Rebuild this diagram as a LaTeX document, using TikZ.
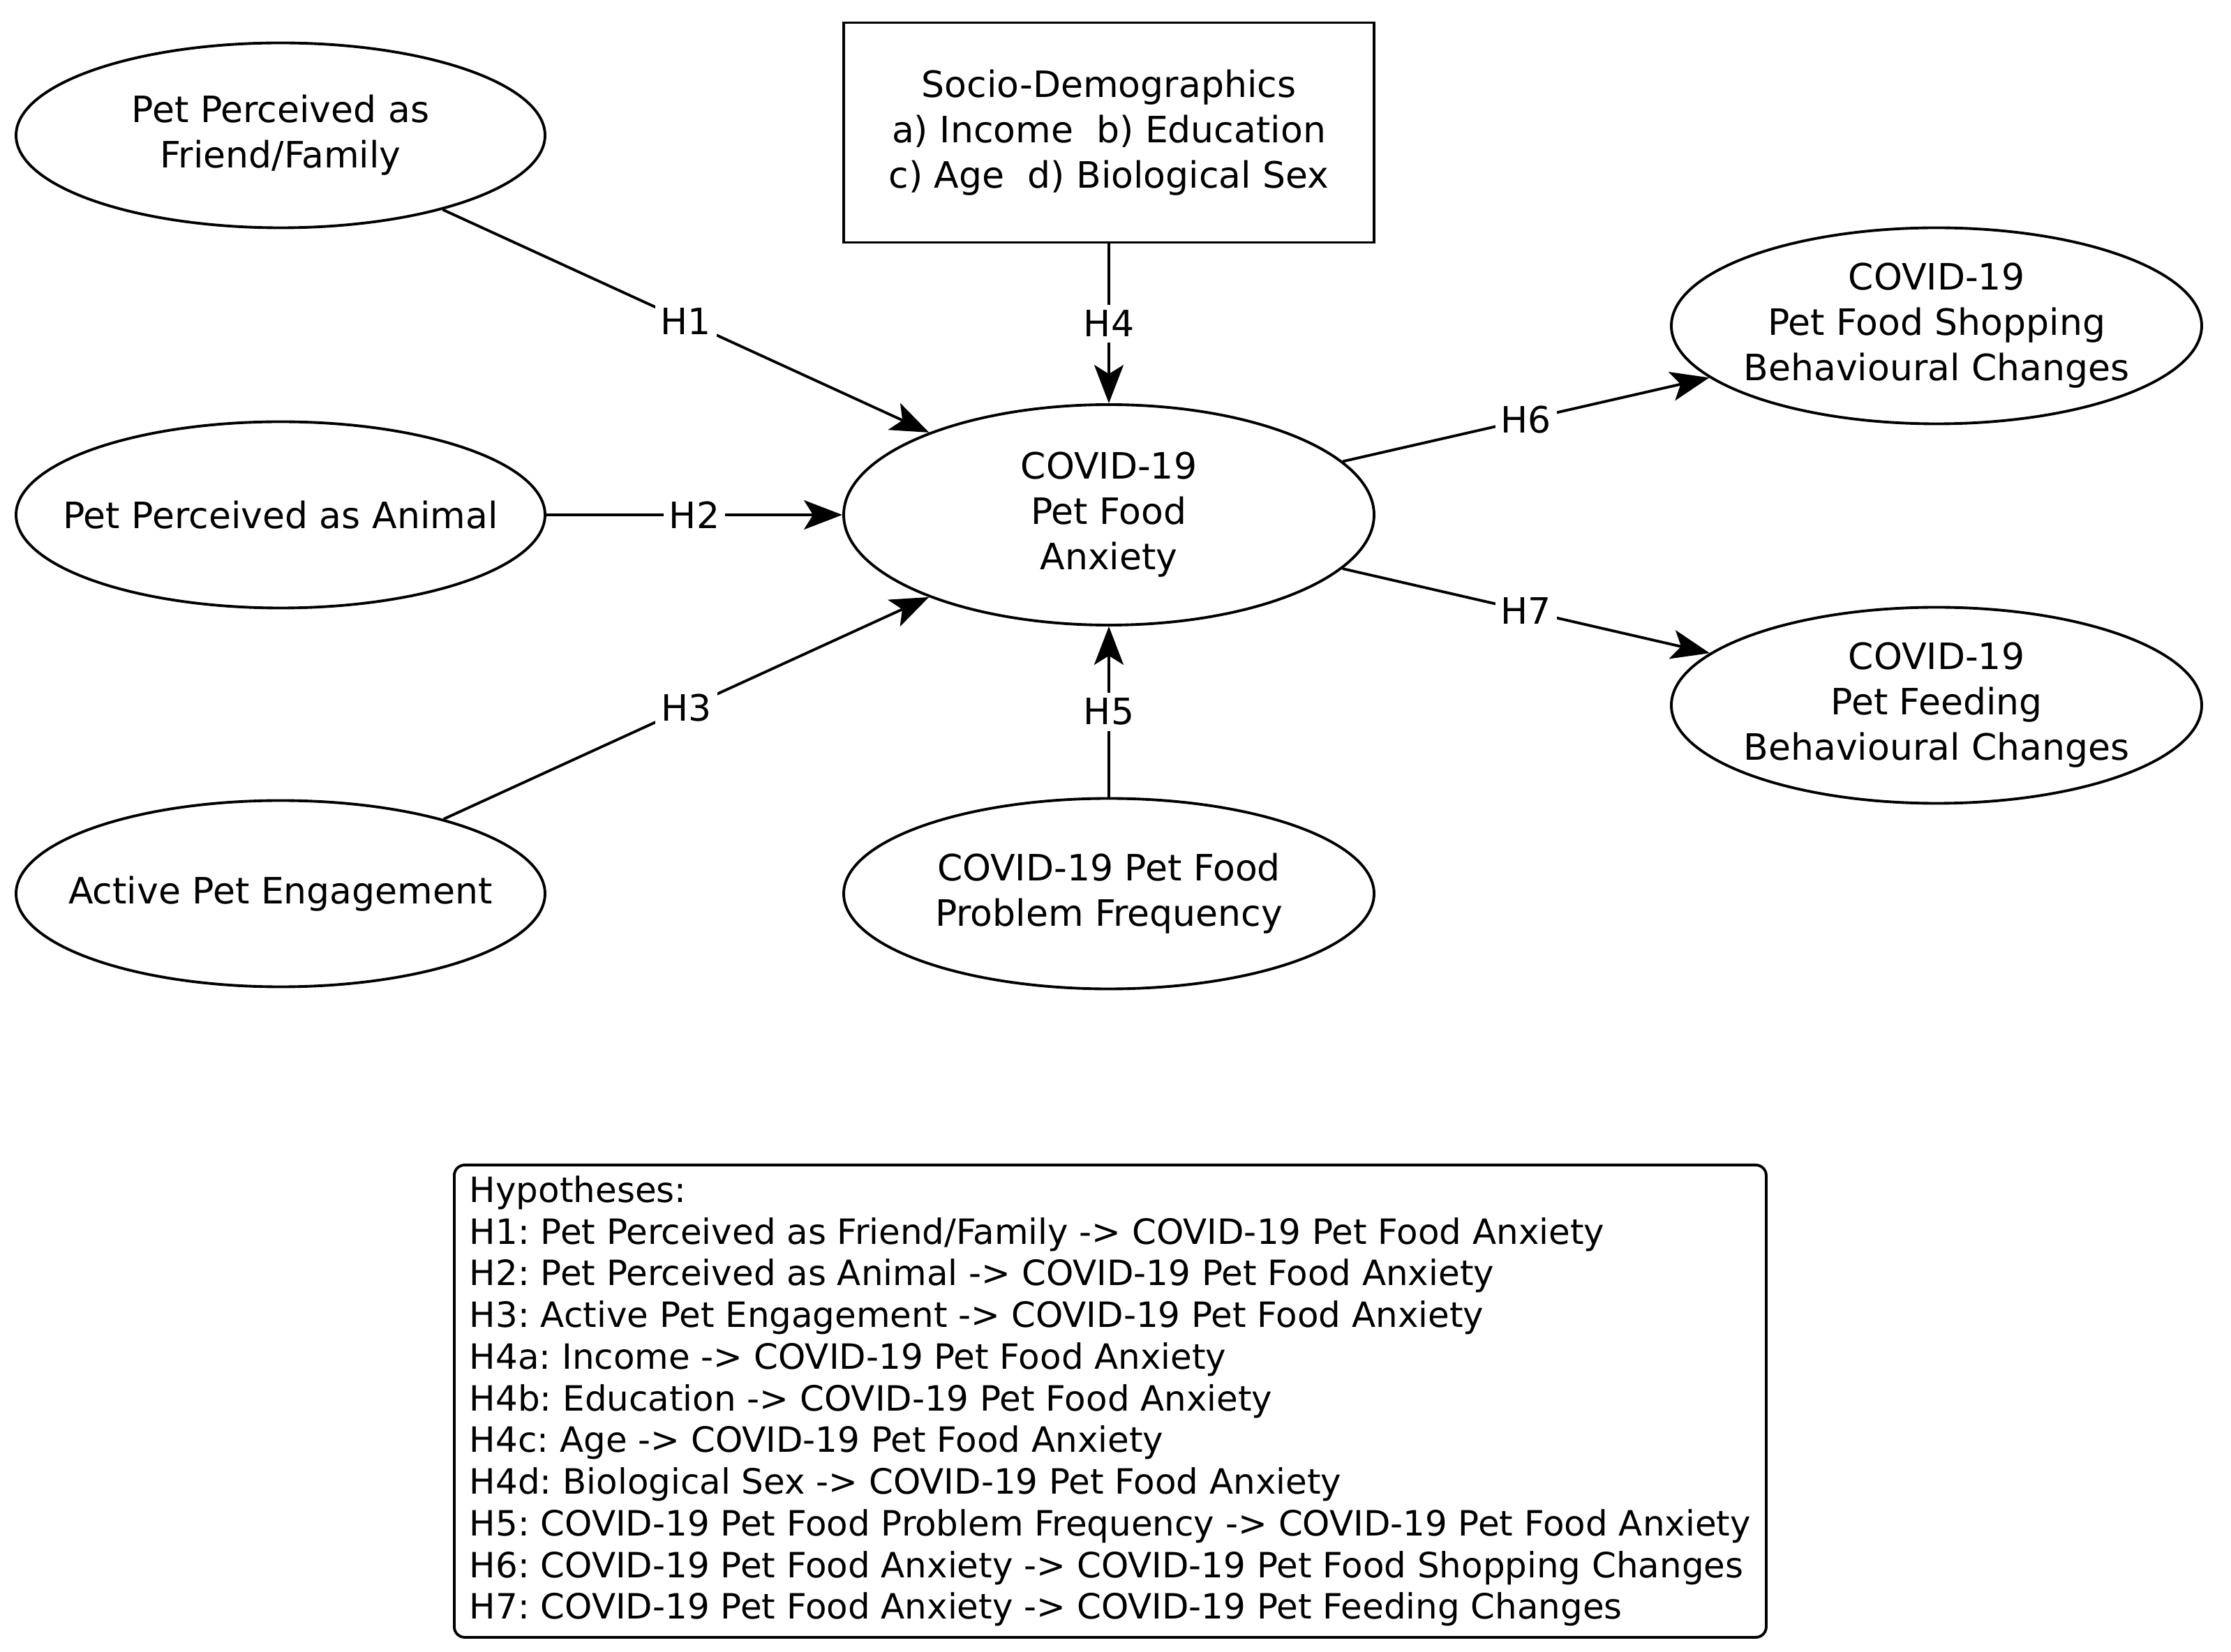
\documentclass[tikz,border=0pt]{standalone}
\usepackage{fontspec}
\setmainfont{DejaVu Sans}
\usetikzlibrary{shapes.geometric,arrows.meta}

\begin{document}
\frenchspacing
\begin{tikzpicture}[line width=1.1pt,
    lat/.style={ellipse, draw, align=center, inner xsep=-1cm, inner ysep=0pt,
      minimum width=7.58cm, font=\fontsize{14.8}{18.5}\selectfont},
    hyp/.style={fill=white, inner sep=0.08cm, font=\fontsize{14.8}{18.5}\selectfont},
    >={Stealth[length=0.55cm,width=0.42cm,inset=0.13cm]}]
  \useasboundingbox (0,0) rectangle (31.97,-23.68);
  % left column
  \node[lat, minimum height=2.65cm] (fam) at (4.02,-1.94) {Pet Perceived as\\Friend/Family};
  \node[lat, minimum height=2.67cm] (anim) at (4.02,-7.38) {Pet Perceived as Animal};
  \node[lat, minimum height=2.67cm] (eng) at (4.02,-12.81) {Active Pet Engagement};
  % middle column
  \node[draw, align=center, minimum width=7.6cm, minimum height=3.15cm,
    font=\fontsize{14.8}{18.5}\selectfont] (socio) at (15.89,-1.9)
    {Socio-Demographics\\a) Income~~b) Education\\c) Age~~d) Biological Sex};
  \node[lat, minimum width=7.6cm, minimum height=3.16cm] (anx) at (15.89,-7.38) {COVID-19\\Pet Food\\Anxiety};
  \node[lat, minimum width=7.6cm, minimum height=2.73cm] (freq) at (15.89,-12.81) {COVID-19 Pet Food\\Problem Frequency};
  % right column
  \node[lat, minimum width=7.6cm, minimum height=2.81cm] (shop) at (27.75,-4.67) {COVID-19\\Pet Food Shopping\\Behavioural Changes};
  \node[lat, minimum width=7.6cm, minimum height=2.81cm] (feed) at (27.75,-10.11) {COVID-19\\Pet Feeding\\Behavioural Changes};
  % paths
  \draw[->] (fam) -- node[hyp] {H1} (anx);
  \draw[->] (anim) -- node[hyp] {H2} (anx);
  \draw[->] (eng) -- node[hyp] {H3} (anx);
  \draw[->] (socio) -- node[hyp] {H4} (anx);
  \draw[->] (freq) -- node[hyp] {H5} (anx);
  \draw[->] (anx) -- node[hyp] {H6} (shop);
  \draw[->] (anx) -- node[hyp] {H7} (feed);
  % legend
  \node[draw, rounded corners=0.15cm, anchor=north west, minimum width=18.8cm,
    minimum height=6.77cm, inner xsep=0.2cm, align=left,
    font=\fontsize{14.2}{17}\selectfont] (hyps) at (6.49,-16.68)
    {Hypotheses:\\
     H1: Pet Perceived as Friend/Family -> COVID-19 Pet Food Anxiety\\
     H2: Pet Perceived as Animal -> COVID-19 Pet Food Anxiety\\
     H3: Active Pet Engagement -> COVID-19 Pet Food Anxiety\\
     H4a: Income -> COVID-19 Pet Food Anxiety\\
     H4b: Education -> COVID-19 Pet Food Anxiety\\
     H4c: Age -> COVID-19 Pet Food Anxiety\\
     H4d: Biological Sex -> COVID-19 Pet Food Anxiety\\
     H5: COVID-19 Pet Food Problem Frequency -> COVID-19 Pet Food Anxiety\\
     H6: COVID-19 Pet Food Anxiety -> COVID-19 Pet Food Shopping Changes\\
     H7: COVID-19 Pet Food Anxiety -> COVID-19 Pet Feeding Changes};
\end{tikzpicture}
\end{document}
